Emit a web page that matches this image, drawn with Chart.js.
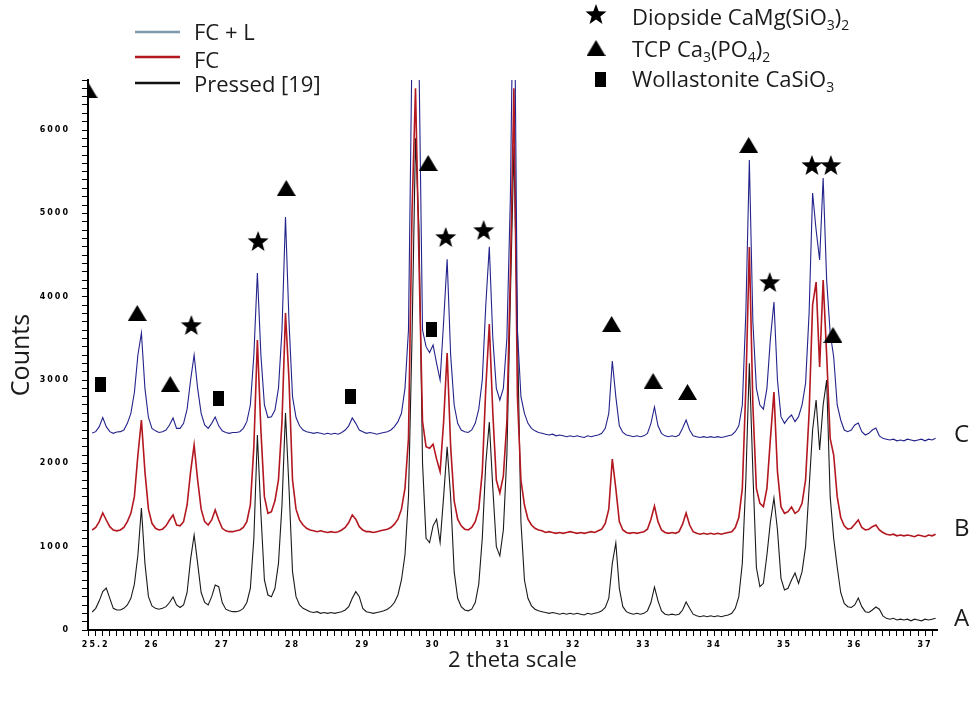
<!DOCTYPE html>
<html>
<head>
  <title>XRD patterns</title>
  <script src="https://cdn.jsdelivr.net/npm/chart.js"></script>
  <style>
    body { margin: 0; background: #fff; }
  </style>
</head>
<body>
  <canvas id="xrd-chart" width="971" height="703"></canvas>

  <script>
    // scan grid (2 theta, degrees)
    const thetaStart = 25.15;
    const thetaStep = 0.05;

    // FC + L (curve C)
    const countsC = [
      2364, 2380, 2440, 2550, 2440, 2380, 2360, 2376, 2380, 2400,
      2480, 2600, 2850, 3300, 3564, 2900, 2550, 2420, 2390, 2370,
      2380, 2400, 2460, 2544, 2420, 2420, 2480, 2650, 3000, 3300,
      2900, 2600, 2460, 2420, 2480, 2556, 2450, 2390, 2370, 2360,
      2370, 2370, 2380, 2420, 2500, 2700, 3300, 4284, 3300, 2700,
      2550, 2560, 2640, 2900, 3600, 4956, 3700, 2800, 2550, 2450,
      2400, 2380, 2370, 2360, 2370, 2360, 2350, 2360, 2350, 2360,
      2350, 2370, 2400, 2450, 2544, 2480, 2400, 2380, 2360, 2370,
      2360, 2350, 2360, 2370, 2380, 2400, 2440, 2500, 2600, 2900,
      3600, 7000, 8000, 6800, 3600, 3400, 3330, 3420, 3200, 3000,
      3700, 4450, 3300, 2700, 2480, 2400, 2380, 2370, 2400, 2480,
      2650, 3000, 3900, 4600, 3500, 2900, 2760, 2900, 3500, 5200,
      8500, 3600, 2800, 2600, 2480, 2420, 2390, 2370, 2360, 2350,
      2340, 2350, 2330, 2340, 2330, 2320, 2330, 2320, 2330, 2320,
      2310, 2330, 2320, 2330, 2340, 2360, 2420, 2600, 3228, 2800,
      2450, 2370, 2340, 2330, 2320, 2330, 2320, 2330, 2360, 2480,
      2676, 2450, 2360, 2330, 2320, 2330, 2320, 2340, 2420, 2520,
      2400, 2330, 2320, 2310, 2320, 2310, 2320, 2310, 2320, 2310,
      2320, 2330, 2340, 2380, 2450, 2700, 3800, 5640, 3700, 2900,
      2700, 2650, 2900, 3500, 3936, 3000, 2560, 2480, 2540, 2580,
      2500, 2560, 2700, 2960, 3800, 5244, 4800, 4440, 5424, 4200,
      3564, 3276, 2700, 2520, 2400, 2380, 2400, 2460, 2484, 2380,
      2340, 2360, 2400, 2424, 2330, 2300, 2290, 2280, 2290, 2270,
      2280, 2270, 2290, 2280, 2270, 2280, 2290, 2270, 2290, 2280,
      2300
    ];

    // FC (curve B)
    const countsB = [
      1200, 1230, 1300, 1404, 1320, 1240, 1200, 1190, 1200, 1230,
      1300, 1400, 1600, 2100, 2520, 1900, 1450, 1280, 1220, 1200,
      1210, 1250, 1320, 1380, 1260, 1250, 1300, 1500, 1900, 2220,
      1800, 1450, 1300, 1260, 1320, 1440, 1320, 1220, 1190, 1180,
      1180, 1190, 1200, 1230, 1300, 1500, 2200, 3480, 2400, 1600,
      1400, 1420, 1550, 1800, 2500, 3804, 3000, 1800, 1450, 1320,
      1260, 1220, 1200, 1190, 1180, 1190, 1180, 1170, 1180, 1170,
      1180, 1200, 1230, 1290, 1380, 1330, 1240, 1200, 1180, 1180,
      1170, 1180, 1190, 1200, 1210, 1230, 1270, 1330, 1450, 1700,
      2300, 5000, 6500, 4400, 2500, 2200, 2180, 2230, 2050, 1900,
      2500, 3324, 2200, 1550, 1330, 1250, 1210, 1200, 1230, 1300,
      1450, 1900, 2900, 3672, 2600, 1800, 1644, 1850, 2500, 4300,
      6500, 2800, 1800, 1500, 1330, 1260, 1220, 1200, 1190, 1170,
      1180, 1170, 1160, 1170, 1160, 1170, 1180, 1170, 1160, 1170,
      1160, 1170, 1180, 1170, 1190, 1210, 1280, 1450, 2052, 1700,
      1300, 1200, 1170, 1160, 1170, 1160, 1170, 1180, 1210, 1330,
      1488, 1300, 1200, 1170, 1160, 1170, 1160, 1180, 1270, 1404,
      1260, 1180, 1160, 1150, 1160, 1150, 1160, 1150, 1160, 1150,
      1160, 1170, 1180, 1230, 1350, 1700, 2900, 4596, 2700, 1700,
      1520, 1480, 1700, 2300, 2856, 1900, 1480, 1400, 1420, 1476,
      1400, 1430, 1520, 1800, 2600, 3900, 4176, 3156, 4200, 3300,
      2300, 2100, 1600, 1350, 1250, 1210, 1220, 1270, 1320, 1230,
      1200, 1210, 1240, 1260, 1200, 1170, 1150, 1140, 1150, 1130,
      1140, 1130, 1140, 1130, 1120, 1140, 1130, 1120, 1140, 1130,
      1150
    ];

    // Pressed [19] (curve A)
    const countsA = [
      216, 260, 350, 460, 504, 380, 260, 240, 240, 260,
      300, 380, 550, 900, 1464, 800, 400, 290, 260, 250,
      260, 280, 330, 396, 300, 270, 300, 450, 850, 1140,
      800, 450, 330, 300, 400, 540, 520, 330, 250, 230,
      220, 220, 230, 260, 330, 500, 1100, 2340, 1400, 600,
      420, 400, 500, 800, 1500, 2604, 1700, 700, 400, 300,
      260, 240, 220, 210, 220, 200, 210, 200, 210, 200,
      210, 220, 240, 280, 380, 460, 400, 260, 220, 210,
      200, 210, 220, 230, 250, 280, 330, 420, 600, 900,
      1600, 3500, 5900, 4800, 2000, 1100, 1050, 1250, 1330, 1050,
      1600, 2200, 1600, 700, 380, 280, 240, 230, 250, 330,
      550, 1100, 2000, 2496, 1700, 1000, 890, 1200, 2100, 4000,
      5800, 3600, 1300, 600, 380, 290, 250, 230, 220, 210,
      200, 210, 200, 190, 200, 190, 200, 190, 200, 190,
      180, 200, 190, 200, 210, 230, 270, 380, 800, 1044,
      500, 280, 220, 200, 190, 200, 190, 200, 230, 330,
      516, 350, 230, 190, 180, 190, 180, 190, 240, 336,
      260, 190, 170, 160, 170, 160, 170, 160, 170, 160,
      170, 180, 200, 260, 400, 800, 1800, 3200, 1900, 750,
      520, 560, 900, 1300, 1584, 1200, 620, 480, 500, 600,
      684, 560, 700, 1000, 1700, 2400, 2760, 2160, 2700, 3000,
      1600, 1100, 756, 450, 320, 280, 270, 300, 384, 280,
      220, 210, 240, 276, 250, 170, 140, 130, 140, 120,
      130, 120, 130, 110, 130, 120, 110, 130, 120, 130,
      140
    ];

    // phase markers
    const diopsideTheta = [26.56, 27.51, 29.71, 30.18, 30.72, 34.79, 35.39, 35.66];
    const diopsideCounts = [3660, 4668, 6816, 4716, 4800, 4176, 5580, 5580];
    const tcpTheta = [25.09, 25.79, 26.26, 27.91, 29.93, 31.15, 32.54, 33.13, 33.62, 34.49, 35.69];
    const tcpCounts = [6480, 3804, 2952, 5304, 5604, 6864, 3672, 2988, 2856, 5820, 3540];
    const wollTheta = [25.27, 26.94, 28.82, 29.98];
    const wollCounts = [2952, 2784, 2808, 3612];

    // axis labels
    const thetaTickLabels = ["25.2", "26", "27", "28", "29", "30", "31", "32", "33", "34", "35", "36", "37"];
    const countTickLabels = [0, 1000, 2000, 3000, 4000, 5000, 6000];

    const theta = countsC.map((_, i) => +(thetaStart + i * thetaStep).toFixed(2));

    function toPoints(xs, ys) {
      return xs.map((x, i) => ({ x: x, y: ys[i] }));
    }

    // marker glyphs
    function makeStar(size) {
      let c = document.createElement("canvas");
      c.width = size; c.height = size;
      let g = c.getContext("2d");
      let cx = size / 2, cy = size / 2 + 1, R = size / 2, r = R * 0.42;
      g.beginPath();
      for (let i = 0; i < 10; i++) {
        let rad = i % 2 === 0 ? R : r;
        let a = -Math.PI / 2 + i * Math.PI / 5;
        g.lineTo(cx + rad * Math.cos(a), cy + rad * Math.sin(a));
      }
      g.closePath();
      g.fillStyle = "#000";
      g.fill();
      return c;
    }

    function makeTriangle(w, h) {
      let c = document.createElement("canvas");
      c.width = w; c.height = h;
      let g = c.getContext("2d");
      g.beginPath();
      g.moveTo(w / 2, 0);
      g.lineTo(w, h);
      g.lineTo(0, h);
      g.closePath();
      g.fillStyle = "#000";
      g.fill();
      return c;
    }

    function makeRect(w, h) {
      let c = document.createElement("canvas");
      c.width = w; c.height = h;
      let g = c.getContext("2d");
      g.fillStyle = "#000";
      g.fillRect(0, 0, w, h);
      return c;
    }

    const starImg = makeStar(22);
    const triImg = makeTriangle(19, 16);
    const rectImg = makeRect(11, 15);

    const thetaTicks = [];
    for (let i = 251; i <= 371; i++) thetaTicks.push(i / 10);
    const countTicks = [];
    for (let c = 0; c <= 6600; c += 100) countTicks.push(c);

    const textFont = "'Open Sans', 'DejaVu Sans', sans-serif";

    function drawRich(ctx, parts, x, y) {
      parts.forEach(([text, sub]) => {
        ctx.font = sub ? "14px " + textFont : "22px " + textFont;
        ctx.fillText(text, x, sub ? y + 5 : y);
        x += ctx.measureText(text).width;
      });
    }

    const legendPlugin = {
      id: "xrdLegend",
      afterDatasetsDraw(chart) {
        // tick labels (z: 1) come after this, drawn spaced out
        chart.ctx.letterSpacing = "2px";
      },
      afterDraw(chart) {
        let ctx = chart.ctx;
        ctx.letterSpacing = "0px";
        ctx.save();
        ctx.fillStyle = "#1b1b1b";
        ctx.textBaseline = "alphabetic";
        ctx.textAlign = "left";

        // series legend
        let rows = [["FC + L", "#7f9bb0", 32, 40], ["FC", "#b3171f", 57, 68], ["Pressed [19]", "#111", 83, 92]];
        rows.forEach(([name, color, ly, ty]) => {
          ctx.strokeStyle = color;
          ctx.lineWidth = 2.5;
          ctx.beginPath();
          ctx.moveTo(135, ly);
          ctx.lineTo(180, ly);
          ctx.stroke();
          ctx.font = "22px " + textFont;
          ctx.fillText(name, 194, ty);
        });

        // phase legend
        ctx.drawImage(starImg, 596 - 11, 14 - 11);
        ctx.drawImage(triImg, 596 - 9.5, 48 - 8);
        ctx.drawImage(rectImg, 600 - 5.5, 79 - 7.5);
        drawRich(ctx, [["Diopside CaMg(SiO", false], ["3", true], [")", false], ["2", true]], 632, 25);
        drawRich(ctx, [["TCP Ca", false], ["3", true], ["(PO", false], ["4", true], [")", false], ["2", true]], 632, 57);
        drawRich(ctx, [["Wollastonite CaSiO", false], ["3", true]], 632, 87);

        // curve names
        ctx.font = "24px " + textFont;
        ctx.fillText("C", 954, 442);
        ctx.fillText("B", 954, 536);
        ctx.fillText("A", 954, 626);
        ctx.restore();
      }
    };

    const tickFont = { family: "'DejaVu Sans', sans-serif", size: 8, weight: "bold" };

    const xrdChart = new Chart(document.getElementById("xrd-chart"), {
      type: "scatter",
      data: {
        datasets: [
          { label: "Diopside", data: toPoints(diopsideTheta, diopsideCounts), pointStyle: starImg, clip: { left: 0, top: 40, right: 20, bottom: 0 } },
          { label: "TCP", data: toPoints(tcpTheta, tcpCounts), pointStyle: triImg, clip: { left: 0, top: 40, right: 20, bottom: 0 } },
          { label: "Wollastonite", data: toPoints(wollTheta, wollCounts), pointStyle: rectImg, clip: { left: 0, top: 40, right: 20, bottom: 0 } },
          { label: "FC + L", data: toPoints(theta, countsC), showLine: true, pointRadius: 0, borderColor: "#23238c", borderWidth: 1.1, tension: 0 },
          { label: "FC", data: toPoints(theta, countsB), showLine: true, pointRadius: 0, borderColor: "#b3171f", borderWidth: 1.6, tension: 0 },
          { label: "Pressed [19]", data: toPoints(theta, countsA), showLine: true, pointRadius: 0, borderColor: "#1a1a1a", borderWidth: 1.1, tension: 0 }
        ]
      },
      options: {
        responsive: false,
        animation: false,
        events: [],
        layout: { padding: { top: 80, right: 34, bottom: 0, left: 0 } },
        plugins: {
          legend: { display: false },
          tooltip: { enabled: false }
        },
        scales: {
          x: {
            type: "linear",
            bounds: "data",
            min: 25.09,
            max: 37.17,
            afterBuildTicks: (s) => { s.ticks = thetaTicks.map(v => ({ value: v })); },
            afterFit: (s) => { s.height = 73; s.paddingLeft = 0; s.paddingRight = 0; },
            grid: { drawOnChartArea: false, tickLength: 6, tickColor: "#000", tickWidth: 1 },
            border: { color: "#000", width: 2 },
            ticks: {
              autoSkip: false,
              maxRotation: 0,
              padding: 4,
              color: "#000",
              font: tickFont,
              z: 1,
              callback: (value) => {
                let v = Math.round(value * 10) / 10;
                let s = Number.isInteger(v) ? String(v) : v.toFixed(1);
                return thetaTickLabels.includes(s) ? s : "";
              }
            },
            title: {
              display: true,
              text: "2 theta scale",
              color: "#1b1b1b",
              font: { family: "'Open Sans', sans-serif", size: 22 },
              padding: { top: 0, bottom: 29 }
            }
          },
          y: {
            type: "linear",
            bounds: "data",
            min: 0,
            max: 6600,
            afterBuildTicks: (s) => { s.ticks = countTicks.map(v => ({ value: v })); },
            afterFit: (s) => { s.width = 88; s.paddingTop = 0; s.paddingBottom = 0; },
            grid: { drawOnChartArea: false, tickLength: 6, tickColor: "#000", tickWidth: 1 },
            border: { color: "#000", width: 2 },
            ticks: {
              autoSkip: false,
              padding: 12,
              color: "#000",
              font: tickFont,
              z: 1,
              callback: (value) => countTickLabels.includes(value) ? String(value) : ""
            },
            title: {
              display: true,
              text: "Counts",
              color: "#1b1b1b",
              font: { family: "'Open Sans', sans-serif", size: 25 },
              padding: { top: 7, bottom: 0 }
            }
          }
        }
      },
      plugins: [legendPlugin]
    });
  </script>
</body>
</html>
